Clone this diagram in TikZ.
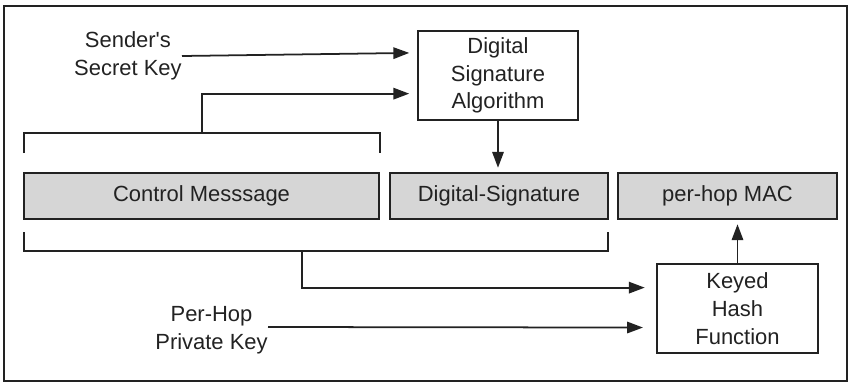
\documentclass[tikz,border=0pt]{standalone}
\usepackage{fontspec}
\setmainfont{Liberation Sans}
\usepackage{tikz}
\usetikzlibrary{arrows.meta,calc,positioning}
\definecolor{PktFill}{HTML}{D6D6D6}
\definecolor{PktText}{HTML}{222222}

\begin{document}
\begin{tikzpicture}[
  x=0.02cm,y=-0.02cm,font=\fontsize{12.5}{15.8}\selectfont,
  flow/.style={-{Triangle[length=9pt,width=6.5pt]},draw=PktText,line width=1pt,shorten >=4.5pt},
  bracket/.style={draw=PktText,line width=1pt},
  procbox/.style={draw=PktText,fill=white,line width=1pt,align=center,
    text=PktText,inner sep=0pt},
  field/.style={draw=PktText,fill=PktFill,line width=1pt,minimum height=0.92cm,
    text=PktText,inner sep=0pt},
  keylabel/.style={align=center,text=PktText,inner sep=0pt}
]

\useasboundingbox (0,0) rectangle (850,383);
\draw[PktText,line width=1.2pt] (4,6) rectangle (847,381);

% processing boxes
\node[procbox,minimum width=3.2cm,minimum height=1.78cm] (sigalg) at (498,75.5)
  {Digital\\Signature\\Algorithm};
\node[procbox,minimum width=3.22cm,minimum height=1.78cm] (keyhash) at (737.5,308.5)
  {Keyed\\Hash\\Function};

% packet fields
\node[field,minimum width=7.1cm] (ctrlmsg) at (201.5,196) {Control Messsage};
\node[field,minimum width=4.36cm] (digsig) at (499,196) {Digital-Signature};
\node[field,minimum width=4.38cm] (hopmac) at (727.5,196) {per-hop MAC};

% key inputs
\node[keylabel,anchor=east] (senderkey) at (182,56) {Sender\textquotesingle s\\Secret Key};
\node[keylabel,anchor=east] (hopkey) at (268,330) {Per-Hop\\Private Key};

% brackets over the covered fields
\coordinate (topjoin) at (202,133);
\coordinate (lowjoin) at (302,251);
\draw[bracket] (24,153) |- (380,133) -- (380,153);
\draw[bracket] (24,232) |- (608,251) -- (608,232);

\draw[flow] (senderkey.east) -- ($(sigalg.west)!0.5!(sigalg.north west)$);
\draw[flow] (topjoin) |- ($(sigalg.west)!0.4!(sigalg.south west)$);
\draw[flow,shorten >=2.5pt] (sigalg.south) -- (sigalg.south |- digsig.north);
\draw[flow,shorten >=6.5pt] (lowjoin) |- ($(keyhash.west)!0.46!(keyhash.north west)$);
\draw[flow,shorten >=7.5pt] (hopkey.east |- 0,327) -- ($(keyhash.west)!0.42!(keyhash.south west)$);
\draw[flow,shorten >=2.5pt] (keyhash.north) -- (keyhash.north |- hopmac.south);

\end{tikzpicture}
\end{document}
